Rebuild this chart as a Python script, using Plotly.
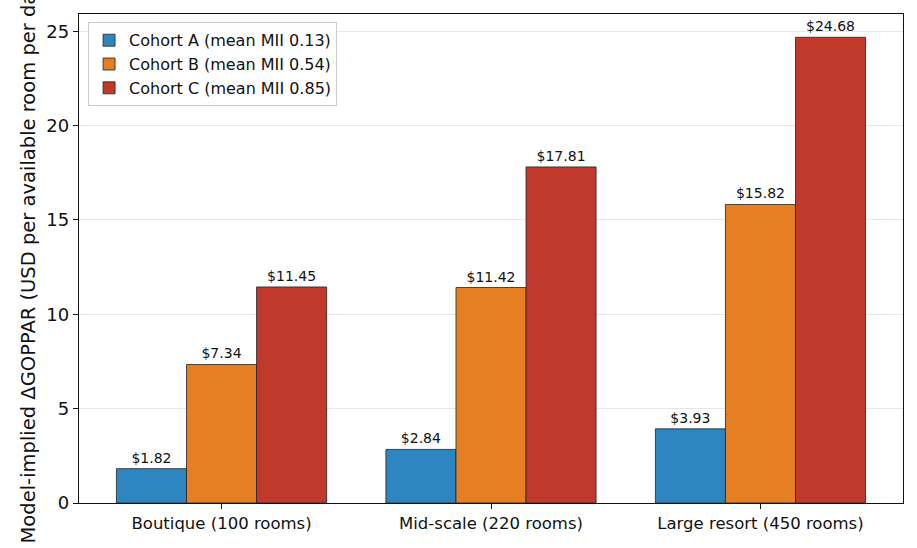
import plotly.graph_objects as go

categories = ["Boutique (100 rooms)", "Mid-scale (220 rooms)", "Large resort (450 rooms)"]
series_names = ["Cohort A (mean MII 0.13)", "Cohort B (mean MII 0.54)", "Cohort C (mean MII 0.85)"]
cohort_a = [1.82, 2.84, 3.93]
cohort_b = [7.34, 11.42, 15.82]
cohort_c = [11.45, 17.81, 24.68]
colors = ["#2E86C1", "#E67E22", "#C0392B"]
y_ticks = [0, 5, 10, 15, 20, 25]

fig = go.Figure()
for name, vals, col in zip(series_names, [cohort_a, cohort_b, cohort_c], colors):
    fig.add_trace(go.Bar(
        x=list(range(len(categories))), y=vals, name=name,
        marker=dict(color=col, line=dict(color="#222222", width=0.8)),
        text=[f"${v:.2f}" for v in vals], textposition="outside",
        textfont=dict(family="DejaVu Sans", size=14, color="#111111"),
        cliponaxis=False,
    ))

fig.update_layout(
    width=917, height=548,
    margin=dict(l=79, r=14, t=14, b=45),
    paper_bgcolor="white", plot_bgcolor="white",
    barmode="group", bargap=0.22, bargroupgap=0,
    font=dict(family="DejaVu Sans", color="#111111"),
    showlegend=True,
    legend=dict(x=0.011, y=0.983, xanchor="left", yanchor="top",
                bgcolor="rgba(255,255,255,0.9)", bordercolor="#cccccc", borderwidth=1,
                font=dict(size=16), tracegroupgap=0, itemwidth=30),
    xaxis=dict(range=[-0.529, 2.529], tickmode="array", tickvals=[0, 1, 2], ticktext=categories,
               tickfont=dict(size=16.5), ticks="outside", ticklen=5, tickcolor="#111111",
               showline=True, linecolor="#111111", linewidth=1.3, mirror=True,
               showgrid=False, zeroline=False),
    yaxis=dict(range=[0, 25.914], tickmode="array", tickvals=y_ticks,
               ticktext=[str(t) for t in y_ticks], tickfont=dict(size=18),
               ticks="outside", ticklen=5, tickcolor="#111111",
               showline=True, linecolor="#111111", linewidth=1.3, mirror=True,
               showgrid=True, gridcolor="#e6e6e6", gridwidth=1, zeroline=False,
               title=dict(text="Model-implied ΔGOPPAR (USD per available room per day)",
                          font=dict(size=19.5), standoff=5)),
)

fig.write_html("out.html")
